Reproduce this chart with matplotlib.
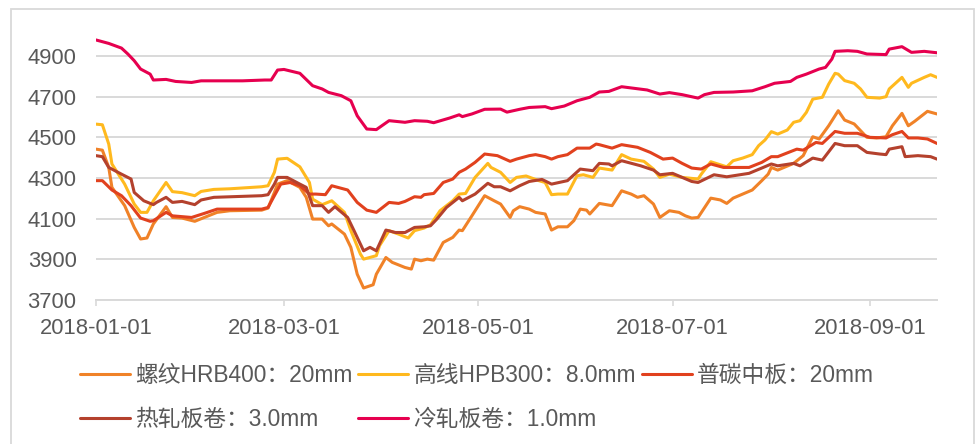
import numpy as np
import matplotlib
matplotlib.use("Agg")
import matplotlib.pyplot as plt
import matplotlib.dates as mdates
from matplotlib.patches import Rectangle

plt.rcParams['font.family'] = ['Liberation Sans', 'Noto Sans CJK SC', 'DejaVu Sans']

START = np.datetime64('2018-01-01')

# day offsets from 2018-01-01 and prices (yuan/ton)
rebar_days = [0, 2, 4, 5, 9, 12, 14, 16, 18, 22, 24, 27, 31, 34, 38, 42, 52, 54, 56, 57, 60, 64, 66, 68, 71, 73, 74, 78, 80, 82, 84, 87, 88, 91, 93, 97, 99, 100, 102, 104, 106, 109, 112, 114, 115, 118, 122, 125, 127, 130, 131, 133, 136, 138, 141, 143, 145, 148, 150, 152, 154, 155, 158, 162, 165, 168, 170, 172, 175, 177, 180, 183, 185, 187, 189, 193, 196, 198, 200, 206, 209, 211, 212, 214, 219, 222, 225, 227, 230, 233, 235, 238, 242, 245, 248, 250, 253, 255, 257, 261, 264]
rebar_vals = [4442, 4437, 4352, 4254, 4164, 4057, 4000, 4005, 4074, 4159, 4106, 4103, 4087, 4106, 4131, 4139, 4142, 4152, 4229, 4270, 4287, 4254, 4205, 4098, 4098, 4065, 4074, 4024, 3959, 3827, 3759, 3775, 3827, 3909, 3885, 3860, 3852, 3901, 3893, 3901, 3896, 3983, 4008, 4044, 4041, 4114, 4213, 4188, 4172, 4106, 4139, 4159, 4147, 4131, 4123, 4044, 4060, 4060, 4090, 4147, 4142, 4123, 4175, 4164, 4237, 4221, 4205, 4213, 4172, 4106, 4139, 4131, 4114, 4103, 4106, 4201, 4192, 4175, 4201, 4241, 4287, 4319, 4352, 4339, 4372, 4410, 4503, 4492, 4557, 4631, 4585, 4566, 4500, 4497, 4503, 4557, 4618, 4557, 4579, 4628, 4615]

wire_days = [0, 2, 4, 5, 9, 12, 14, 16, 18, 22, 24, 27, 31, 33, 37, 42, 52, 54, 56, 57, 60, 64, 67, 68, 71, 74, 78, 80, 83, 84, 88, 89, 92, 95, 98, 100, 103, 105, 108, 112, 114, 116, 119, 123, 124, 127, 130, 132, 135, 139, 141, 143, 145, 148, 151, 153, 156, 158, 162, 165, 168, 172, 175, 177, 180, 184, 189, 190, 193, 196, 198, 200, 203, 206, 208, 210, 212, 214, 217, 219, 221, 223, 225, 228, 230, 232, 233, 235, 238, 240, 242, 246, 248, 249, 253, 255, 256, 260, 262, 264]
wire_vals = [4565, 4562, 4467, 4369, 4270, 4172, 4131, 4131, 4188, 4278, 4233, 4228, 4213, 4234, 4244, 4247, 4257, 4262, 4328, 4393, 4397, 4355, 4278, 4196, 4169, 4188, 4131, 4041, 3926, 3901, 3918, 3967, 4041, 4024, 4005, 4041, 4054, 4070, 4139, 4188, 4221, 4224, 4303, 4372, 4352, 4328, 4278, 4303, 4310, 4287, 4278, 4218, 4221, 4221, 4311, 4316, 4303, 4349, 4339, 4415, 4393, 4382, 4344, 4303, 4319, 4303, 4295, 4319, 4380, 4365, 4355, 4385, 4398, 4415, 4459, 4487, 4528, 4516, 4536, 4574, 4582, 4623, 4688, 4697, 4762, 4815, 4811, 4779, 4766, 4738, 4697, 4693, 4700, 4738, 4795, 4746, 4766, 4795, 4808, 4795]

plate_days = [0, 2, 5, 8, 11, 14, 17, 18, 22, 24, 30, 34, 38, 52, 54, 56, 58, 61, 64, 67, 69, 72, 74, 79, 82, 85, 88, 92, 95, 97, 100, 102, 103, 106, 109, 112, 114, 116, 119, 122, 126, 130, 132, 136, 138, 141, 143, 145, 148, 151, 155, 157, 158, 162, 165, 170, 174, 178, 181, 184, 187, 190, 193, 197, 205, 209, 212, 214, 220, 222, 226, 228, 232, 235, 239, 243, 248, 250, 253, 255, 258, 261, 264]
plate_vals = [4287, 4287, 4241, 4213, 4164, 4103, 4087, 4090, 4131, 4114, 4106, 4126, 4147, 4147, 4155, 4213, 4270, 4278, 4262, 4221, 4221, 4218, 4262, 4241, 4180, 4142, 4131, 4180, 4175, 4185, 4208, 4205, 4218, 4224, 4278, 4295, 4328, 4344, 4377, 4418, 4410, 4382, 4393, 4410, 4415, 4405, 4393, 4405, 4415, 4447, 4447, 4467, 4464, 4447, 4464, 4451, 4426, 4393, 4398, 4372, 4349, 4344, 4369, 4352, 4352, 4377, 4405, 4405, 4442, 4437, 4475, 4470, 4529, 4520, 4520, 4500, 4497, 4513, 4529, 4497, 4497, 4492, 4470]

hrc_days = [0, 2, 4, 8, 11, 12, 15, 18, 19, 22, 24, 27, 31, 33, 37, 52, 54, 56, 57, 60, 64, 66, 68, 71, 73, 75, 79, 81, 83, 84, 86, 88, 91, 94, 97, 100, 103, 105, 107, 110, 114, 115, 119, 123, 125, 127, 130, 133, 136, 140, 143, 148, 152, 156, 158, 161, 162, 165, 171, 175, 177, 181, 184, 187, 189, 194, 198, 205, 209, 212, 214, 219, 221, 225, 228, 232, 235, 239, 242, 246, 248, 249, 253, 254, 258, 262, 264]
hrc_vals = [4410, 4405, 4352, 4319, 4295, 4229, 4188, 4169, 4180, 4205, 4180, 4185, 4169, 4192, 4205, 4213, 4218, 4270, 4303, 4303, 4270, 4254, 4164, 4164, 4131, 4159, 4106, 4041, 3975, 3942, 3959, 3942, 4044, 4032, 4032, 4057, 4060, 4065, 4098, 4155, 4205, 4188, 4221, 4274, 4257, 4257, 4237, 4262, 4283, 4293, 4270, 4287, 4344, 4336, 4372, 4369, 4360, 4385, 4360, 4339, 4316, 4323, 4303, 4283, 4278, 4316, 4306, 4323, 4349, 4369, 4360, 4372, 4360, 4398, 4388, 4470, 4459, 4459, 4426, 4418, 4415, 4442, 4454, 4405, 4410, 4405, 4393]

crc_days = [0, 4, 8, 10, 12, 14, 17, 18, 22, 25, 30, 33, 46, 53, 55, 57, 59, 64, 68, 71, 73, 77, 80, 82, 85, 88, 92, 97, 100, 104, 106, 111, 114, 115, 118, 122, 127, 129, 133, 136, 141, 143, 147, 151, 155, 158, 161, 165, 168, 173, 177, 180, 184, 189, 191, 194, 200, 206, 210, 213, 218, 220, 223, 227, 229, 231, 232, 236, 239, 242, 248, 249, 253, 256, 260, 264]
crc_vals = [4979, 4962, 4939, 4910, 4877, 4836, 4811, 4782, 4785, 4775, 4770, 4778, 4778, 4782, 4782, 4831, 4834, 4815, 4754, 4738, 4721, 4705, 4680, 4606, 4541, 4538, 4582, 4574, 4582, 4579, 4572, 4595, 4611, 4602, 4615, 4638, 4639, 4624, 4638, 4647, 4651, 4641, 4654, 4680, 4697, 4723, 4726, 4749, 4743, 4733, 4713, 4720, 4710, 4693, 4710, 4721, 4723, 4729, 4749, 4766, 4775, 4795, 4811, 4836, 4844, 4885, 4923, 4926, 4923, 4910, 4907, 4934, 4946, 4918, 4923, 4916]

labels = ['螺纹HRB400：20mm', '高线HPB300：8.0mm', '普碳中板：20mm', '热轧板卷：3.0mm', '冷轧板卷：1.0mm']
colors = ['#F08228', '#FFB91E', '#E1411E', '#B4412D', '#E6004F']
series = [(rebar_days, rebar_vals), (wire_days, wire_vals), (plate_days, plate_vals),
          (hrc_days, hrc_vals), (crc_days, crc_vals)]

y_ticks = [3700, 3900, 4100, 4300, 4500, 4700, 4900]
x_ticks = ['2018-01-01', '2018-03-01', '2018-05-01', '2018-07-01', '2018-09-01']

fig = plt.figure(figsize=(9.76, 4.44), dpi=100)
ax = fig.add_axes([96/976, 1-300/444, (937-96)/976, (300-30)/444])

handles = []
for (d, v), c, lab in zip(series, colors, labels):
    x = START + np.array(d, dtype='timedelta64[D]')
    h, = ax.plot(x.astype('datetime64[D]').astype(object), v, color=c, lw=2.2, label=lab,
                 solid_joinstyle='round', solid_capstyle='round')
    handles.append(h)

ax.set_ylim(3700, 5028)
ax.set_yticks(y_ticks)
ax.set_xlim(np.datetime64('2018-01-01').astype(object), np.datetime64('2018-09-22').astype(object))
ax.set_xticks([np.datetime64(t).astype(object) for t in x_ticks])
ax.xaxis.set_major_formatter(mdates.DateFormatter('%Y-%m-%d'))

ax.grid(axis='y', color='#d9d9d9', lw=1.4)
ax.set_axisbelow(True)
for s in ['top', 'right', 'left']:
    ax.spines[s].set_visible(False)
ax.spines['bottom'].set_color('#d9d9d9')
ax.spines['bottom'].set_linewidth(1.4)
ax.tick_params(axis='y', length=0, pad=14, labelsize=15.8, labelcolor='#595959')
ax.tick_params(axis='x', length=4, width=1.2, color='#d9d9d9', pad=9, labelsize=15.8, labelcolor='#595959')

# legend filled row by row: reorder for matplotlib's column-major layout
order = [0, 3, 1, 4, 2]
leg = fig.legend(handles=[handles[i] for i in order], loc='upper left',
                 bbox_to_anchor=(80/976, 1-364/444),
                 ncol=3, frameon=False, fontsize=16.4, handlelength=2.2, handletextpad=0.22,
                 columnspacing=0.25, labelspacing=0.9, borderaxespad=0, borderpad=0)
for t in leg.get_texts():
    t.set_color('#595959')

fig.patches.append(Rectangle((11/976, -0.05), (974-11)/976, 1 - 9/444 + 0.05,
                             transform=fig.transFigure, fill=False, edgecolor='#d9d9d9', lw=1.3))

fig.savefig('out.png', dpi=100)
